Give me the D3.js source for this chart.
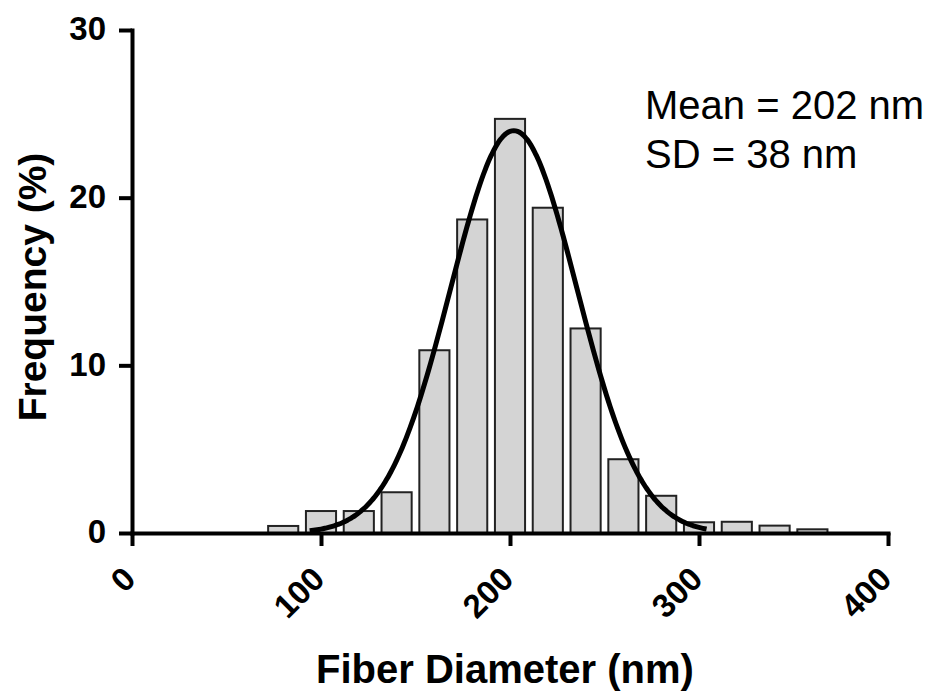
<!DOCTYPE html>
<html>
<head>
<meta charset="utf-8">
<script src="https://cdn.jsdelivr.net/npm/d3@7"></script>
<style>
  body { margin: 0; background: #fff; }
  svg { display: block; }
  .axis path, .axis line { stroke: #000; stroke-width: 4; }
  .axis text { font-family: "Liberation Sans", Arial, sans-serif; font-weight: bold; font-size: 33px; fill: #000; }
</style>
</head>
<body>
<div id="chart"></div>
<script>
var svgWidth = 933;
var svgHeight = 695;

var margin = { top: 30, right: 45, bottom: 162, left: 132 };
var width = svgWidth - margin.left - margin.right;
var height = svgHeight - margin.top - margin.bottom;

// histogram bins (bin centre in nm, 20 nm wide) and frequency in %
var binCenters = [80, 100, 120, 140, 160, 180, 200, 220, 240, 260, 280, 300, 320, 340, 360];
var frequency  = [0.42, 1.31, 1.31, 2.43, 10.9, 18.7, 24.7, 19.4, 12.2, 4.4, 2.22, 0.64, 0.67, 0.44, 0.22];
var binWidth = 20;

// gaussian fit drawn over the bars
var fitMean = 202;
var fitSigma = 33.5;
var fitPeak = 24;
var fitRange = [94, 304];

var xTicks = [0, 100, 200, 300, 400];
var yTicks = [0, 10, 20, 30];

var svg = d3.select("#chart")
  .append("svg")
  .attr("width", svgWidth)
  .attr("height", svgHeight);

var chartGroup = svg.append("g")
  .attr("transform", `translate(${margin.left}, ${margin.top})`);

var xScale = d3.scaleLinear().domain([0, 400]).range([0, width]);
var yScale = d3.scaleLinear().domain([0, 30]).range([height, 0]);

// bars
var inset = 1.5;
chartGroup.selectAll("rect.bar")
  .data(binCenters)
  .enter()
  .append("rect")
  .attr("class", "bar")
  .attr("x", (d) => xScale(d - binWidth / 2 + inset) + 1)
  .attr("width", (d) => xScale(binWidth - 2 * inset) - xScale(0) - 2)
  .attr("y", (d, i) => yScale(frequency[i]))
  .attr("height", (d, i) => yScale(0) - yScale(frequency[i]))
  .attr("fill", "#d4d4d4")
  .attr("stroke", "#222")
  .attr("stroke-width", 2);

// fitted curve
var curveX = d3.range(fitRange[0], fitRange[1] + 0.5, 1);
var fitLine = d3.line()
  .x(d => xScale(d))
  .y(d => yScale(fitPeak * Math.exp(-Math.pow(d - fitMean, 2) / (2 * fitSigma * fitSigma))))
  .curve(d3.curveBasis);

chartGroup.append("path")
  .datum(curveX)
  .attr("d", fitLine)
  .attr("fill", "none")
  .attr("stroke", "#000")
  .attr("stroke-width", 5);

// axes
var bottomAxis = d3.axisBottom(xScale).tickValues(xTicks).tickSize(13).tickSizeOuter(0).tickPadding(0);
var leftAxis = d3.axisLeft(yScale).tickValues(yTicks).tickSize(13).tickSizeOuter(0).tickPadding(13);

var xAxisG = chartGroup.append("g")
  .attr("class", "axis")
  .attr("transform", `translate(0, ${height})`)
  .call(bottomAxis);

xAxisG.selectAll("text")
  .attr("text-anchor", "end")
  .attr("x", 0)
  .attr("y", 0)
  .attr("dy", 0)
  .attr("transform", "translate(5, 48) rotate(-45)");

var yAxisG = chartGroup.append("g")
  .attr("class", "axis")
  .call(leftAxis);

yAxisG.selectAll("text").attr("dy", "0.3em");
xAxisG.select(".domain").attr("stroke-linecap", "square");
yAxisG.select(".domain").attr("stroke-linecap", "square");

// axis titles
svg.append("text")
  .attr("x", 505)
  .attr("y", 683)
  .attr("text-anchor", "middle")
  .style("font-family", "Liberation Sans, Arial, sans-serif")
  .style("font-weight", "bold")
  .style("font-size", "40px")
  .text("Fiber Diameter (nm)");

svg.append("text")
  .attr("transform", "translate(46, 287) rotate(-90)")
  .attr("text-anchor", "middle")
  .style("font-family", "Liberation Sans, Arial, sans-serif")
  .style("font-weight", "bold")
  .style("font-size", "39px")
  .text("Frequency (%)");

// stats
var statsLines = ["Mean = 202 nm", "SD = 38 nm"];
svg.selectAll("text.stats")
  .data(statsLines)
  .enter()
  .append("text")
  .attr("class", "stats")
  .attr("x", 645)
  .attr("y", (d, i) => 119 + i * 49)
  .style("font-family", "Liberation Sans, Arial, sans-serif")
  .style("font-size", "40px")
  .text(d => d);
</script>
</body>
</html>
